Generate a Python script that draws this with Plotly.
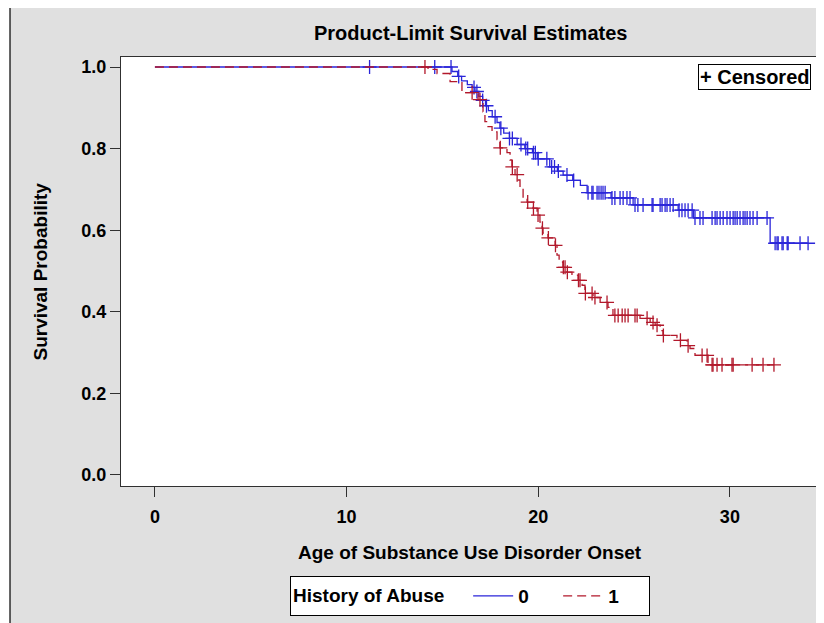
import plotly.graph_objects as go

# ---- Data ----
group0_event_times = [0, 15.5, 15.8, 16.0, 16.3, 16.55, 16.7, 16.9, 17.1, 17.25, 17.4, 17.6, 17.85,
                      18.0, 18.2, 18.5, 18.9, 19.3, 19.7, 19.95, 20.6, 21.0, 21.3, 21.8, 22.2,
                      22.55, 23.8, 24.95, 27.3, 28.1, 32.1]
group0_survival = [1.0, 0.989, 0.977, 0.966, 0.957, 0.95, 0.94, 0.928, 0.918, 0.905, 0.893, 0.878,
                   0.864, 0.85, 0.838, 0.825, 0.81, 0.8, 0.79, 0.775, 0.755, 0.745, 0.735, 0.722,
                   0.71, 0.692, 0.679, 0.662, 0.649, 0.63, 0.568]
group0_censor_times = [11.2, 14.6, 15.45, 15.85, 16.65, 16.8, 17.1, 17.3, 17.75, 18.05, 18.5, 18.65,
                       19.1, 19.35, 19.45, 19.75, 19.85, 20.0, 20.45, 20.7, 20.85, 21.05, 21.5, 21.85,
                       22.6, 22.8, 22.86, 23.07, 23.17, 23.28, 23.38, 23.49,
                       23.85, 24.0, 24.27, 24.43, 24.63, 24.79,
                       25.05, 25.2, 25.47, 25.94, 25.99, 26.36, 26.46, 26.62, 26.72, 26.88, 27.04,
                       27.35, 27.5, 27.66, 27.82, 28.03,
                       28.18, 28.44, 28.6, 29.07, 29.23, 29.33, 29.49, 29.65, 29.85, 30.01, 30.17,
                       30.27, 30.38, 30.53, 30.69, 30.79, 30.9, 31.05, 31.21, 31.42, 31.94,
                       32.36, 32.46, 32.52, 32.72, 32.78, 32.99, 33.04, 33.66, 34.08]

group1_event_times = [0, 14.25, 14.72, 15.4, 16.02, 16.86, 17.12, 17.22, 17.38, 17.59, 17.85, 18.0,
                      18.37, 18.53, 18.63, 18.79, 18.95, 19.05, 19.21, 19.42, 19.73, 19.94, 20.09,
                      20.2, 20.25, 20.51, 20.88, 20.98, 21.09, 21.29, 21.5, 21.76, 22.08, 22.29,
                      22.44, 22.86, 23.23, 23.64, 23.9, 25.31, 25.84, 26.1, 26.36, 26.51, 27.24,
                      27.4, 27.77, 27.92, 28.18, 28.86]
group1_survival = [1.0, 0.994, 0.984, 0.964, 0.937, 0.92, 0.89, 0.866, 0.854, 0.841, 0.822, 0.802,
                   0.79, 0.772, 0.755, 0.736, 0.723, 0.706, 0.679, 0.669, 0.654, 0.637, 0.62,
                   0.605, 0.593, 0.581, 0.563, 0.539, 0.522, 0.509, 0.497, 0.49, 0.477, 0.465,
                   0.445, 0.435, 0.423, 0.411, 0.391, 0.384, 0.374, 0.367, 0.354, 0.342, 0.337,
                   0.33, 0.317, 0.31, 0.293, 0.27]
group1_censor_times = [14.09, 16.55, 16.96, 18.02, 18.65, 18.9, 19.45, 19.75, 19.99, 20.22, 20.53,
                       20.9, 21.31, 21.4, 21.52, 22.1, 22.18, 22.46, 22.81, 22.96, 23.59, 24.0,
                       24.17, 24.38, 24.53, 24.69, 25.05, 25.16, 25.68, 25.99, 26.2, 26.53, 27.42,
                       27.82, 28.55, 28.81, 29.07, 29.12, 29.33, 29.59, 30.11, 30.17, 31.16, 31.73,
                       32.3]

x_ticks = [0, 10, 20, 30]
y_ticks = [0.0, 0.2, 0.4, 0.6, 0.8, 1.0]

BLUE = "#2A25D9"
RED = "#B2182B"
FONT = "Liberation Sans"


def surv_at(times, surv, t):
    val = surv[0]
    for ti, si in zip(times, surv):
        if ti <= t:
            val = si
    return val


def curve(times, surv, censors):
    end = max(times[-1], max(censors))
    xs = list(times) + [end]
    ys = list(surv) + [surv[-1]]
    cy = [surv_at(times, surv, c) for c in censors]
    return xs, ys, cy


fig = go.Figure()

for name, times, surv, cens, color, dash in [
    ("0", group0_event_times, group0_survival, group0_censor_times, BLUE, "solid"),
    ("1", group1_event_times, group1_survival, group1_censor_times, RED, "9px,5px"),
]:
    xs, ys, cy = curve(times, surv, cens)
    fig.add_trace(go.Scatter(x=xs, y=ys, mode="lines", name=name, line_shape="hv",
                             line=dict(color=color, width=1.3, dash=dash)))
    fig.add_trace(go.Scatter(x=cens, y=cy, mode="markers", showlegend=False,
                             marker=dict(symbol="cross-thin", size=10,
                                         line=dict(color=color, width=1.3))))

fig.update_layout(
    width=816, height=615,
    margin=dict(l=113, r=5, t=49, b=137, autoexpand=False),
    paper_bgcolor="white",
    plot_bgcolor="white",
    font=dict(family=FONT, color="black"),
    showlegend=True,
    legend=dict(orientation="h", x=0.5, xanchor="center", y=-0.2564, yanchor="middle",
                bgcolor="white", bordercolor="black", borderwidth=1,
                title=dict(text="History of Abuse   ", side="left",
                           font=dict(size=19, family=FONT, weight="bold")),
                font=dict(size=19, family=FONT, weight="bold"),
                itemwidth=40, tracegroupgap=0,
                entrywidth=35, entrywidthmode="pixels"),
    shapes=[
        dict(type="rect", xref="paper", yref="paper", x0=-0.159, x1=1.05, y0=-0.4, y1=1.119,
             fillcolor="#E0E0E0", line=dict(color="#303030", width=1.5), layer="below"),
        dict(type="rect", xref="paper", yref="paper", x0=0, x1=1, y0=0, y1=1,
             fillcolor="white", line=dict(width=0), layer="below"),
    ],
    annotations=[
        dict(text="Product-Limit Survival Estimates", xref="paper", yref="paper", x=0.5, y=1.056,
             showarrow=False, xanchor="center", yanchor="middle",
             font=dict(size=20, family=FONT, weight="bold")),
        dict(text="Age of Substance Use Disorder Onset", xref="paper", yref="paper", x=0.5, y=-0.156,
             showarrow=False, xanchor="center", yanchor="middle",
             font=dict(size=19, family=FONT, weight="bold")),
        dict(text="Survival Probability", xref="paper", yref="paper", x=-0.116, y=0.5,
             textangle=-90, showarrow=False, xanchor="center", yanchor="middle",
             font=dict(size=19, family=FONT, weight="bold")),
        dict(text="+ Censored", xref="paper", yref="paper", x=0.9885, y=0.984,
             showarrow=False, xanchor="right", yanchor="top",
             bordercolor="black", borderwidth=1, bgcolor="white", borderpad=1,
             font=dict(size=20, family=FONT, weight="bold")),
    ],
)

fig.update_xaxes(range=[-1.77, 34.65], tickvals=x_ticks, ticks="outside", ticklen=10,
                 tickcolor="#303030", showline=True, linecolor="#303030", linewidth=1, mirror=True,
                 showgrid=False, zeroline=False, ticklabelstandoff=4,
                 tickfont=dict(size=18, family=FONT, weight="bold"))
fig.update_yaxes(range=[-0.027, 1.0245], tickvals=y_ticks, tickformat=".1f", ticks="outside",
                 ticklen=10, tickcolor="#303030", showline=True, linecolor="#303030", linewidth=1,
                 mirror=True, showgrid=False, zeroline=False,
                 tickfont=dict(size=18, family=FONT, weight="bold"))

fig.write_html("out.html")
